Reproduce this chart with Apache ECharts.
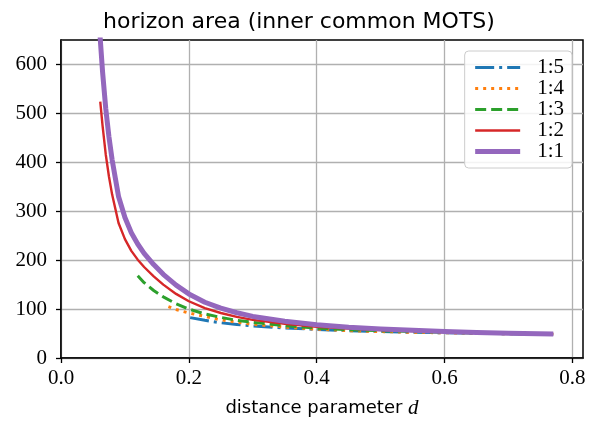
<!DOCTYPE html>
<html>
<head>
<meta charset="utf-8">
<script src="https://cdn.jsdelivr.net/npm/echarts@6/dist/echarts.min.js"></script>
<style>
  html, body { margin: 0; padding: 0; background: #fff; }
  #chart { width: 598px; height: 424px; }
</style>
</head>
<body>
<div id="chart"></div>
<script>
// series labels (mass ratio)
const seriesNames = ['1:5', '1:4', '1:3', '1:2', '1:1'];

// distance parameter d and horizon area
const d15 = [0.202, 0.225, 0.25, 0.275, 0.3, 0.35, 0.4, 0.45, 0.5, 0.55, 0.6, 0.65, 0.7, 0.77];
const area15 = [82.5, 77, 72, 68.5, 65.5, 61.5, 58.5, 56, 54, 52.5, 51.5, 50.5, 49.5, 48.5];

const d14 = [0.168, 0.18, 0.2, 0.225, 0.25, 0.275, 0.3, 0.35, 0.4, 0.45, 0.5, 0.55, 0.6, 0.65, 0.7, 0.77];
const area14 = [105, 99, 92, 85, 78, 73, 69, 63, 59, 56, 54, 52.5, 51.5, 50.5, 49.5, 48.5];

const d13 = [0.12, 0.13, 0.145, 0.16, 0.18, 0.2, 0.225, 0.25, 0.275, 0.3, 0.35, 0.4, 0.45, 0.5, 0.55, 0.6, 0.65, 0.7, 0.77];
const area13 = [168, 154, 138, 125, 111, 100, 90, 83, 77, 73, 66, 61, 58, 56, 54, 52.5, 51, 50, 49];

const d12 = [0.0614, 0.065, 0.07, 0.075, 0.08, 0.09, 0.1, 0.11, 0.12, 0.13, 0.145, 0.16, 0.18, 0.2, 0.225, 0.25, 0.275, 0.3, 0.35, 0.4, 0.45, 0.5, 0.55, 0.6, 0.65, 0.7, 0.77];
const area12 = [524, 475, 416, 371, 334, 276, 243, 219, 201, 186, 167, 150, 131, 116, 102, 92, 84, 78, 70, 64, 60, 57, 55, 53, 51.5, 50, 49];

const d11 = [0.057, 0.0615, 0.065, 0.07, 0.075, 0.08, 0.09, 0.1, 0.11, 0.12, 0.13, 0.145, 0.16, 0.18, 0.2, 0.225, 0.25, 0.275, 0.3, 0.35, 0.4, 0.45, 0.5, 0.55, 0.6, 0.65, 0.7, 0.77];
const area11 = [760, 650, 585, 510, 452, 405, 330, 287, 256, 233, 214, 191, 171, 149, 131, 114, 102, 92.5, 85, 75, 68, 63, 59.5, 56.5, 54, 52, 50.5, 49.3];

const xTicks = [0, 0.2, 0.4, 0.6, 0.8];
const yTicks = [0, 100, 200, 300, 400, 500, 600];

// matplotlib tab colours and line styles
const colors = ['#1f77b4', '#ff7f0e', '#2ca02c', '#d62728', '#9467bd'];
const widths = [3, 3, 3, 2.4, 5];
const dashes = [[19, 5, 3, 5], [3, 5], [11, 5], 'solid', 'solid'];

const serifFont = 'Liberation Serif';
const sansFont = 'DejaVu Sans';

const zip = (xs, ys) => xs.map((x, i) => [x, ys[i]]);
const allData = [zip(d15, area15), zip(d14, area14), zip(d13, area13), zip(d12, area12), zip(d11, area11)];

const chart = echarts.init(document.getElementById('chart'), null, { renderer: 'canvas' });

const series = seriesNames.map((name, i) => ({
  name: name,
  type: 'line',
  data: allData[i],
  symbol: 'none',
  smooth: false,
  clip: true,
  z: 2 + i,
  lineStyle: { color: colors[i], width: widths[i], type: dashes[i], cap: 'butt', join: 'round' },
  itemStyle: { color: colors[i] }
}));

chart.setOption({
  animation: false,
  backgroundColor: '#fff',
  title: {
    text: 'horizon area (inner common MOTS)',
    left: 'center',
    top: 6,
    textStyle: { fontFamily: sansFont, fontSize: 22, fontWeight: 'normal', color: '#000' }
  },
  grid: {
    left: 61, right: 15, top: 40, bottom: 64,
    show: true, borderColor: '#000', borderWidth: 1.5, backgroundColor: 'transparent'
  },
  legend: {
    orient: 'vertical',
    right: 26,
    top: 51,
    padding: [6, 8, 6, 8],
    backgroundColor: 'rgba(255,255,255,0.85)',
    borderColor: '#cccccc',
    borderWidth: 1,
    borderRadius: 4,
    itemWidth: 45,
    itemHeight: 14,
    itemGap: 0,
    itemStyle: { opacity: 0 },
    textStyle: { fontFamily: serifFont, fontSize: 21, color: '#000', lineHeight: 19.5, padding: [0, 0, 0, 12] },
    data: seriesNames.map((name, i) => ({
      name: name,
      itemStyle: { opacity: 0 },
      lineStyle: { color: colors[i], width: widths[i], type: dashes[i], cap: 'butt' }
    }))
  },
  xAxis: {
    type: 'value',
    min: 0,
    max: 0.8165,
    interval: 0.2,
    name: '{a|distance parameter }{b|d}',
    nameLocation: 'middle',
    nameGap: 40,
    nameTextStyle: {
      rich: {
        a: { fontFamily: sansFont, fontSize: 18, color: '#000' },
        b: { fontFamily: serifFont, fontSize: 21, fontStyle: 'italic', color: '#000' }
      }
    },
    axisLine: { show: true, onZero: false, lineStyle: { color: '#000', width: 1.5 } },
    axisTick: { show: true, customValues: xTicks, length: 5, lineStyle: { color: '#000', width: 1.3 } },
    axisLabel: {
      customValues: xTicks,
      margin: 10,
      fontFamily: serifFont, fontSize: 21, color: '#000',
      formatter: v => v.toFixed(1)
    },
    splitLine: { show: true, lineStyle: { color: '#b0b0b0', width: 1.3 } }
  },
  yAxis: {
    type: 'value',
    min: 0,
    max: 650,
    interval: 100,
    axisLine: { show: true, onZero: false, lineStyle: { color: '#000', width: 1.5 } },
    axisTick: { show: true, customValues: yTicks, length: 5, lineStyle: { color: '#000', width: 1.3 } },
    axisLabel: {
      customValues: yTicks,
      margin: 14,
      fontFamily: serifFont, fontSize: 21, color: '#000',
      formatter: v => String(Math.round(v))
    },
    splitLine: { show: true, lineStyle: { color: '#b0b0b0', width: 1.3 } }
  },
  series: series
});
</script>
</body>
</html>
